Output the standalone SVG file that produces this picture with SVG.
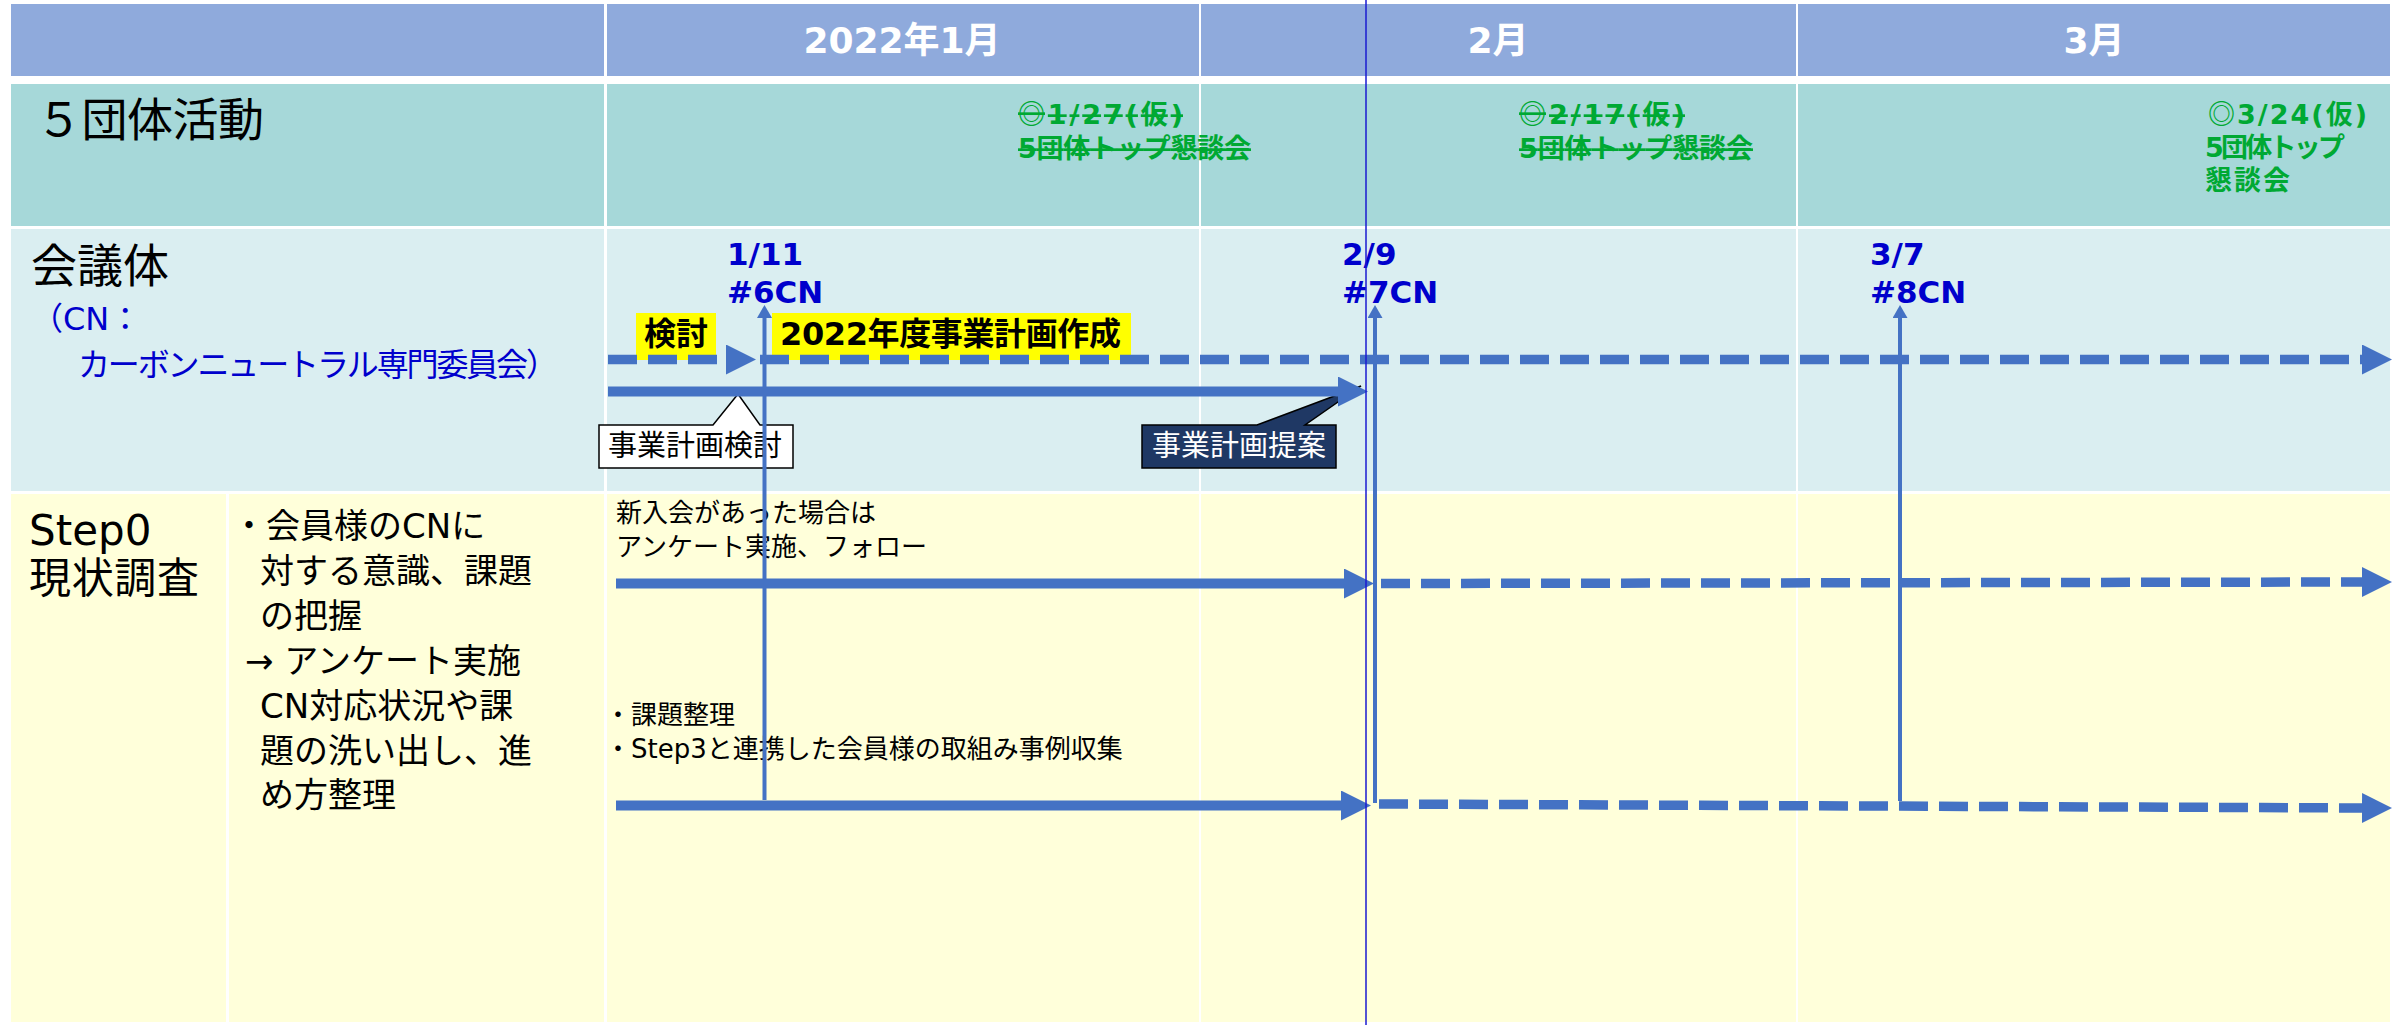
<svg xmlns="http://www.w3.org/2000/svg" width="2407" height="1025" viewBox="0 0 2407 1025">
<style>
.jp{font-family:"Noto Sans CJK JP",sans-serif}
.mx{font-family:"DejaVu Sans","Noto Sans CJK JP",sans-serif}
.hdr{font-weight:bold;font-size:36px;fill:#FFFFFF;text-anchor:middle}
.lbl{font-size:46px;fill:#000000}
.step{font-size:42px;fill:#000000}
.green{font-weight:bold;font-size:27px;fill:#00A933}
.strike{text-decoration:line-through}
.cn{font-weight:bold;font-size:31px;fill:#0000CC}
.blue{font-size:32px;fill:#0000CC}
.body{font-size:34px;fill:#000000}
.note{font-size:26px;fill:#000000}
.hl{font-weight:bold;font-size:32px;fill:#000000}
.co{font-size:29px}
.hdrc{fill:#8FAADC}
.teal{fill:#A6D8D9}
.lb{fill:#DAEEF1}
.yl{fill:#FFFFDA}
.hlbg{fill:#FFFF00}
.thick{stroke:#4472C4;stroke-width:10;fill:none}
.dash{stroke:#4472C4;stroke-width:9.5;fill:none;stroke-dasharray:29 11}
.vline{stroke:#4472C4;stroke-width:4;fill:none}
</style>
<defs>
<marker id="ah" markerUnits="userSpaceOnUse" markerWidth="30" markerHeight="30" viewBox="0 0 30 30" refX="0" refY="15" orient="auto"><path d="M0,0 L30,15 L0,30 Z" fill="#4472C4"/></marker>
<marker id="ahs" markerUnits="userSpaceOnUse" markerWidth="13" markerHeight="15" viewBox="0 0 13 15" refX="0" refY="7.5" orient="auto"><path d="M0,0 L13,7.5 L0,15 Z" fill="#4472C4"/></marker>
</defs>
<rect x="0" y="0" width="2407" height="1025" fill="#FFFFFF"/>

<g id="table">
<rect class="hdrc" x="11" y="4" width="593" height="72"/>
<rect class="hdrc" x="607" y="4" width="592" height="72"/>
<rect class="hdrc" x="1201" y="4" width="595" height="72"/>
<rect class="hdrc" x="1798" y="4" width="592" height="72"/>
<rect class="teal" x="11" y="84" width="593" height="142"/>
<rect class="teal" x="607" y="84" width="592" height="142"/>
<rect class="teal" x="1201" y="84" width="595" height="142"/>
<rect class="teal" x="1798" y="84" width="592" height="142"/>
<rect class="lb" x="11" y="229" width="593" height="262"/>
<rect class="lb" x="607" y="229" width="592" height="262"/>
<rect class="lb" x="1201" y="229" width="595" height="262"/>
<rect class="lb" x="1798" y="229" width="592" height="262"/>
<rect class="yl" x="11" y="494" width="215" height="528"/>
<rect class="yl" x="229" y="494" width="375" height="528"/>
<rect class="yl" x="607" y="494" width="592" height="528"/>
<rect class="yl" x="1201" y="494" width="595" height="528"/>
<rect class="yl" x="1798" y="494" width="592" height="528"/>
</g>

<g id="header">
<text class="mx hdr" x="902" y="53">2022年1月</text>
<text class="mx hdr" x="1498" y="53">2月</text>
<text class="mx hdr" x="2094" y="53">3月</text>
</g>

<g id="row-5dantai">
<text class="jp lbl" x="36" y="136" textLength="228">５団体活動</text>
</g>
<g id="event-0127">
<text class="mx green strike" x="1018" y="124" textLength="165"><tspan class="jp">◎</tspan>1/27(仮)</text>
<text class="mx green strike" x="1018" y="158" textLength="233">5団体トップ懇談会</text>
</g>
<g id="event-0217">
<text class="mx green strike" x="1519" y="124" textLength="166"><tspan class="jp">◎</tspan>2/17(仮)</text>
<text class="mx green strike" x="1519" y="158" textLength="234">5団体トップ懇談会</text>
</g>
<g id="event-0324">
<text class="mx green" x="2208" y="124" textLength="159"><tspan class="jp">◎</tspan>3/24(仮)</text>
<text class="mx green" x="2205" y="157" textLength="140">5団体トップ</text>
<text class="mx green" x="2205" y="190" textLength="85">懇談会</text>
</g>

<g id="row-kaigitai">
<text class="jp lbl" x="31" y="282">会議体</text>
<text class="mx blue" x="31" y="330">（CN：</text>
<text class="jp blue" x="78" y="376" textLength="480">カーボンニュートラル専門委員会）</text>
</g>
<g id="cn6">
<text class="mx cn" x="727" y="265">1/11</text>
<text class="mx cn" x="727" y="303">#6CN</text>
</g>
<g id="cn7">
<text class="mx cn" x="1342" y="265">2/9</text>
<text class="mx cn" x="1342" y="303">#7CN</text>
</g>
<g id="cn8">
<text class="mx cn" x="1870" y="265">3/7</text>
<text class="mx cn" x="1870" y="303">#8CN</text>
</g>
<g id="label-kento">
<rect class="hlbg" x="636" y="313" width="80" height="47"/>
<text class="jp hl" x="644" y="345">検討</text>
</g>
<g id="label-plan">
<rect class="hlbg" x="772" y="313" width="359" height="47"/>
<text class="mx hl" x="780" y="345" textLength="341">2022年度事業計画作成</text>
</g>

<g id="row-step0">
<text class="mx step" x="29" y="545">Step0</text>
<text class="jp step" x="29" y="593" textLength="170">現状調査</text>
</g>
<g id="step0-desc">
<text class="mx body" x="232" y="538">・会員様のCNに</text>
<text class="jp body" x="260" y="583">対する意識、課題</text>
<text class="jp body" x="260" y="628">の把握</text>
<text class="mx body" x="245" y="673">→ アンケート実施</text>
<text class="mx body" x="260" y="718">CN対応状況や課</text>
<text class="jp body" x="260" y="763">題の洗い出し、進</text>
<text class="jp body" x="260" y="807">め方整理</text>
</g>
<g id="note-shinnyukai">
<text class="jp note" x="616" y="522">新入会があった場合は</text>
<text class="jp note" x="616" y="556">アンケート実施、フォロー</text>
</g>
<g id="note-kadai">
<text class="jp note" x="605" y="724">・課題整理</text>
<text class="mx note" x="605" y="758">・Step3と連携した会員様の取組み事例収集</text>
</g>

<g id="callout-kento">
<path d="M599,425 L713,425 L738,394 L760,425 L793,425 L793,468 L599,468 Z" fill="#FFFFFF" stroke="#000000" stroke-width="1.5"/>
<text class="jp co" x="608" y="456" fill="#000000">事業計画検討</text>
</g>
<g id="callout-teian">
<path d="M1142,425 L1257,425 L1361,386 L1305,425 L1336,425 L1336,468 L1142,468 Z" fill="#1F3864" stroke="#000000" stroke-width="1.5"/>
<text class="jp co" x="1152" y="456" fill="#FFFFFF">事業計画提案</text>
</g>

<g id="connectors">
<line class="dash" x1="608" y1="359.5" x2="726" y2="359.5" marker-end="url(#ah)"/>
<line class="dash" x1="760" y1="359.5" x2="2362" y2="359.5" marker-end="url(#ah)"/>
<line class="thick" x1="608" y1="391.5" x2="1338" y2="391.5" marker-end="url(#ah)"/>
<line class="thick" x1="616" y1="583.5" x2="1344" y2="583.5" marker-end="url(#ah)"/>
<line class="dash" x1="1381" y1="583.5" x2="2362" y2="582" marker-end="url(#ah)"/>
<line class="thick" x1="616" y1="805.5" x2="1341" y2="805.5" marker-end="url(#ah)"/>
<line class="dash" x1="1379" y1="804" x2="2362" y2="808" marker-end="url(#ah)"/>
<line class="vline" x1="764.5" y1="800" x2="764.5" y2="318" marker-end="url(#ahs)"/>
<line class="vline" x1="1375" y1="803" x2="1375" y2="318" marker-end="url(#ahs)"/>
<line class="vline" x1="1900" y1="801" x2="1900" y2="318" marker-end="url(#ahs)"/>
</g>

<g id="today-line">
<line x1="1366" y1="0" x2="1366" y2="1025" stroke="#1A1AD0" stroke-width="1.5"/>
</g>
</svg>
